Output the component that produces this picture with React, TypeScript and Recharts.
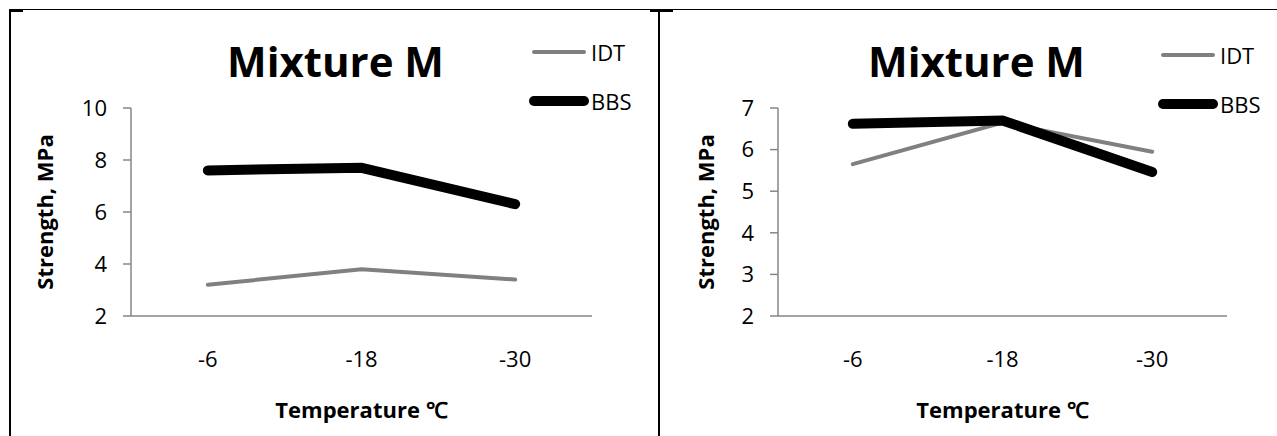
import { LineChart, Line, XAxis, YAxis, Legend } from 'recharts';

const temperatures = ['-6', '-18', '-30'];
const seriesNames = ['IDT', 'BBS'];
const idtLeft = [3.2, 3.8, 3.4];
const bbsLeft = [7.6, 7.7, 6.3];
const idtRight = [5.65, 6.65, 5.95];
const bbsRight = [6.62, 6.7, 5.46];
const leftTicks = [2, 4, 6, 8, 10];
const rightTicks = [2, 3, 4, 5, 6, 7];

const seriesStyle: Record<string, { color: string; width: number }> = {
  IDT: { color: '#808080', width: 4 },
  BBS: { color: '#000000', width: 10 },
};

const FONT = '"Open Sans", Calibri, sans-serif';
const AXIS = '#868686';

const YTitle = (props: any) => {
  const vb = props.viewBox || {};
  const x = vb.x + props.dx;
  const y = vb.y + vb.height / 2;
  return (
    <text x={x} y={y} transform={`rotate(-90, ${x}, ${y})`} textAnchor="middle"
      fontFamily={FONT} fontWeight={700} fontSize={22} fill="#000">
      Strength, MPa
    </text>
  );
};

const XTitle = (props: any) => {
  const vb = props.viewBox || {};
  return (
    <text x={vb.x + vb.width / 2} y={vb.y + 102} textAnchor="middle"
      fontFamily={FONT} fontWeight={700} fontSize={22} fill="#000">
      Temperature ℃
    </text>
  );
};

const LegendBox = () => (
  <div style={{ display: 'flex', flexDirection: 'column', gap: 25, fontFamily: FONT }}>
    {seriesNames.map((name) => (
      <div key={name} style={{ display: 'flex', alignItems: 'center', height: 24 }}>
        <svg width={64} height={24}>
          <line x1={7} y1={12} x2={57} y2={12} stroke={seriesStyle[name].color}
            strokeWidth={seriesStyle[name].width} strokeLinecap="round" />
        </svg>
        <span style={{ fontSize: 22, lineHeight: '24px', color: '#000' }}>{name}</span>
      </div>
    ))}
  </div>
);

type PanelProps = {
  left: number;
  width: number;
  yAxisWidth: number;
  marginRight: number;
  idt: number[];
  bbs: number[];
  ticks: number[];
  titleX: number;
  legendLeft: number;
  legendTop: number;
  yTitleX: number;
};

const Panel = (p: PanelProps) => {
  const data = temperatures.map((t, i) => ({ temp: t, IDT: p.idt[i], BBS: p.bbs[i] }));
  return (
    <div style={{ position: 'absolute', left: p.left, top: 0, width: p.width, height: 436 }}>
      <LineChart width={p.width} height={436} data={data}
        margin={{ top: 108, right: p.marginRight, bottom: 0, left: 0 }}>
        <XAxis dataKey="temp" scale="band" height={120} tickLine={false} tickSize={0} tickMargin={35}
          axisLine={{ stroke: AXIS, strokeWidth: 1.5 }}
          tick={{ fill: '#000', fontSize: 22, fontFamily: FONT }}
          label={{ content: <XTitle /> }} />
        <YAxis type="number" domain={[p.ticks[0], p.ticks[p.ticks.length - 1]]} ticks={p.ticks}
          interval={0} width={p.yAxisWidth} tickSize={8} tickMargin={16}
          axisLine={{ stroke: AXIS, strokeWidth: 1.5 }}
          tickLine={{ stroke: AXIS, strokeWidth: 1.5 }}
          tick={{ fill: '#000', fontSize: 22, fontFamily: FONT }}
          label={{ content: <YTitle dx={p.yTitleX} /> }} />
        <Legend content={<LegendBox />} layout="vertical" align="center" verticalAlign="middle"
          wrapperStyle={{ left: p.legendLeft, top: p.legendTop, width: 120 }} />
        {seriesNames.map((name) => (
          <Line key={name} type="linear" dataKey={name} stroke={seriesStyle[name].color}
            strokeWidth={seriesStyle[name].width} strokeLinecap="round"
            dot={false} activeDot={false} isAnimationActive={false} />
        ))}
      </LineChart>
      <div style={{ position: 'absolute', left: p.titleX - 200, top: 40, width: 400, textAlign: 'center',
        fontFamily: FONT, fontWeight: 700, fontSize: 42, lineHeight: '42px', color: '#000' }}>
        Mixture M
      </div>
    </div>
  );
};

export default function App() {
  return (
    <div style={{ position: 'absolute', left: 0, top: 0, width: 1277, height: 436, background: '#fff', overflow: 'hidden' }}>
      <Panel left={0} width={659} yAxisWidth={131} marginRight={67} idt={idtLeft} bbs={bbsLeft}
        ticks={leftTicks} titleX={335.5} legendLeft={527} legendTop={40} yTitleX={53} />
      <Panel left={659} width={618} yAxisWidth={119} marginRight={50} idt={idtRight} bbs={bbsRight}
        ticks={rightTicks} titleX={317.5} legendLeft={497} legendTop={43} yTitleX={55} />
      <div style={{ position: 'absolute', left: 9, top: 9, width: 1268, height: 1.3, background: '#000' }} />
      <div style={{ position: 'absolute', left: 8.5, top: 9, width: 2.6, height: 427, background: '#000' }} />
      <div style={{ position: 'absolute', left: 9, top: 9, width: 14, height: 3, background: '#000' }} />
      <div style={{ position: 'absolute', left: 657.8, top: 9, width: 2.6, height: 427, background: '#000' }} />
      <div style={{ position: 'absolute', left: 650, top: 9, width: 23, height: 2.5, background: '#000' }} />
    </div>
  );
}
